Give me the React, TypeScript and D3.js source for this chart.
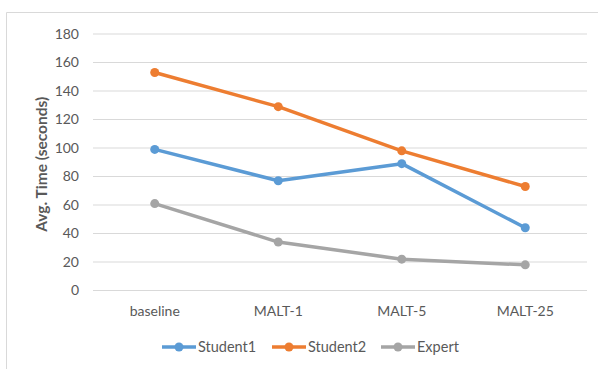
import React from "react";
import * as d3 from "d3";

const categories = ["baseline", "MALT-1", "MALT-5", "MALT-25"];
const student1 = [99, 77, 89, 44];
const student2 = [153, 129, 98, 73];
const expert = [61, 34, 22, 18];
const yTicks = [0, 20, 40, 60, 80, 100, 120, 140, 160, 180];
const seriesNames = ["Student1", "Student2", "Expert"];
const colors = ["#5B9BD5", "#ED7D31", "#A5A5A5"];

const W = 598, H = 369;
const font = "Lato, 'Open Sans', sans-serif";

export default function App() {
  const x = d3.scaleBand().domain(categories).range([93, 587]);
  const y = d3.scaleLinear().domain([0, 180]).range([290.5, 34]);
  const line = d3
    .line<number>()
    .x((_, i) => (x(categories[i]) as number) + x.bandwidth() / 2)
    .y((d) => y(d));
  const series = [student1, student2, expert];
  const legendX = [162, 272, 381];
  return (
    <svg width={W} height={H} style={{ position: "absolute", left: 0, top: 0 }} fontFamily={font}>
      <rect x={0} y={0} width={W} height={H} fill="#fff" />
      <path d={`M6.5,${H} V12.5 H${W}`} fill="none" stroke="#D9D9D9" strokeWidth={1} />
      {yTicks.map((t) => (
        <g key={t}>
          <line x1={93} x2={587} y1={y(t)} y2={y(t)} stroke="#D9D9D9" strokeWidth={1} />
          <text x={79} y={y(t)} dy="0.35em" textAnchor="end" fontSize={14} fill="#595959">
            {t}
          </text>
        </g>
      ))}
      {categories.map((c) => (
        <text
          key={c}
          x={(x(c) as number) + x.bandwidth() / 2}
          y={311}
          dy="0.35em"
          textAnchor="middle"
          fontSize={14}
          fill="#595959"
        >
          {c}
        </text>
      ))}
      <text
        transform={`translate(42,${(y(0) + y(180)) / 2 + 2}) rotate(-90)`}
        textAnchor="middle"
        dy="0.35em"
        fontSize={15.5}
        fontWeight="bold"
        fill="#595959"
      >
        Avg. Time (seconds)
      </text>
      {series.map((s, si) => (
        <g key={si}>
          <path d={line(s) as string} fill="none" stroke={colors[si]} strokeWidth={3.5} strokeLinejoin="round" />
          {s.map((v, i) => (
            <circle
              key={i}
              cx={(x(categories[i]) as number) + x.bandwidth() / 2}
              cy={y(v)}
              r={4.5}
              fill={colors[si]}
            />
          ))}
        </g>
      ))}
      {seriesNames.map((n, i) => (
        <g key={n} transform={`translate(${legendX[i]},347)`}>
          <line x1={0} x2={34} y1={0} y2={0} stroke={colors[i]} strokeWidth={3.5} />
          <circle cx={17} cy={0} r={4.5} fill={colors[i]} />
          <text x={36} y={0} dy="0.35em" fontSize={14.5} fill="#595959">
            {n}
          </text>
        </g>
      ))}
    </svg>
  );
}
